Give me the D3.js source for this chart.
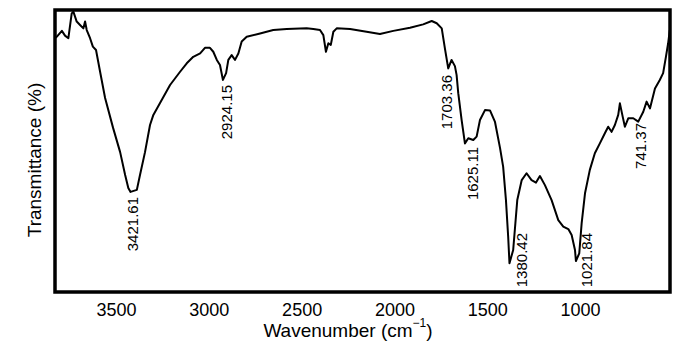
<!DOCTYPE html>
<html>
<head>
<meta charset="utf-8">
<script src="https://cdn.jsdelivr.net/npm/d3@7"></script>
<style>
  html, body { margin: 0; padding: 0; background: #fff; }
  svg { display: block; font-family: "Liberation Sans", Arial, Helvetica, sans-serif; }
</style>
</head>
<body>
<svg id="chart" width="700" height="349"></svg>
<script>
// ---- Data ----
const wavenumber = [
  3829, 3820, 3792, 3775, 3757, 3739, 3730, 3712,
  3694, 3676, 3667, 3658, 3640, 3625, 3608, 3586,
  3559, 3516, 3478, 3451, 3434, 3422, 3388, 3371,
  3344, 3317, 3299, 3263, 3209, 3155, 3119, 3084,
  3047, 3021, 2994, 2976, 2957, 2940, 2924, 2907,
  2895, 2877, 2859, 2841, 2823, 2796, 2724, 2653,
  2580, 2473, 2437, 2401, 2383, 2369, 2356, 2343,
  2329, 2311, 2239, 2150, 2078, 2006, 1916, 1845,
  1799, 1772, 1745, 1728, 1710, 1692, 1674, 1665,
  1656, 1638, 1620, 1602, 1575, 1557, 1539, 1512,
  1485, 1458, 1431, 1414, 1399, 1387, 1380, 1360,
  1338, 1314, 1288, 1261, 1237, 1216, 1189, 1153,
  1117, 1090, 1063, 1045, 1027, 1022, 1004, 991,
  973, 947, 920, 893, 866, 848, 830, 812,
  794, 785, 770, 758, 740, 713, 686, 659,
  641, 623, 596, 570, 552, 537, 525, 516
];
const transmittance = [
  90.0, 90.5, 92.6, 90.9, 90.0, 98.8, 99.4, 95.9,
  94.7, 93.5, 95.9, 92.9, 90.0, 87.0, 85.8, 78.1,
  68.8, 58.2, 49.6, 41.5, 36.9, 35.5, 36.2, 41.5,
  49.6, 59.2, 62.8, 67.0, 73.4, 78.1, 81.1, 83.4,
  84.6, 86.6, 86.6, 85.2, 82.3, 80.5, 75.2, 77.6,
  82.3, 84.0, 82.3, 84.6, 88.8, 90.5, 91.7, 92.9,
  93.3, 93.5, 93.3, 92.9, 91.1, 85.2, 88.2, 87.6,
  92.3, 93.5, 93.3, 92.3, 91.5, 92.6, 93.7, 94.9,
  96.1, 95.3, 93.5, 86.4, 79.3, 82.3, 80.1, 77.0,
  70.5, 61.0, 52.7, 54.5, 53.9, 55.1, 61.0, 64.5,
  64.4, 60.3, 51.1, 44.4, 32.6, 19.6, 10.2, 14.9,
  32.6, 39.7, 42.1, 39.7, 38.8, 41.1, 37.9, 32.6,
  25.5, 23.2, 22.3, 20.2, 14.9, 11.0, 13.7, 24.4,
  35.0, 43.3, 49.2, 52.7, 56.3, 58.6, 56.8, 59.2,
  62.8, 66.9, 62.2, 58.6, 61.6, 61.6, 60.4, 63.9,
  67.5, 65.1, 72.2, 75.2, 77.6, 83.4, 88.2, 92.9
];
const xTicks = [3500, 3000, 2500, 2000, 1500, 1000];
const peakLabels = ['3421.61', '2924.15', '1703.36', '1625.11', '1380.42', '1021.84', '741.37'];

// label placement (pixel offsets from the peak, and top end of the rotated text)
const labelDx = [2.5, 4, -3, 9, 12, 11, 13];
const labelTop = [197, 85, 75, 147, 233, 233, 123];

// ---- Layout ----
const plotLeft = 55, plotRight = 670, plotTop = 10, plotBottom = 292;
const svg = d3.select('#chart');

const x = d3.scaleLinear().domain([3829, 515]).range([plotLeft, plotRight]);
const y = d3.scaleLinear().domain([0, 100]).range([plotBottom, plotTop]);

svg.append('clipPath').attr('id', 'plot-clip')
  .append('rect')
  .attr('x', plotLeft).attr('y', plotTop)
  .attr('width', plotRight - plotLeft).attr('height', plotBottom - plotTop);

// spectrum
const points = wavenumber.map((w, i) => [w, transmittance[i]]);
const line = d3.line().x(d => x(d[0])).y(d => y(d[1]));

svg.append('path')
  .datum(points)
  .attr('clip-path', 'url(#plot-clip)')
  .attr('fill', 'none')
  .attr('stroke', '#000')
  .attr('stroke-width', 2)
  .attr('stroke-linejoin', 'round')
  .attr('d', line);

// frame
svg.append('rect')
  .attr('x', plotLeft).attr('y', plotTop)
  .attr('width', plotRight - plotLeft).attr('height', plotBottom - plotTop)
  .attr('fill', 'none')
  .attr('stroke', '#000')
  .attr('stroke-width', 3.5);

// x axis labels (no tick marks)
const xAxis = svg.append('g')
  .attr('transform', `translate(0,${plotBottom})`)
  .call(d3.axisBottom(x).tickValues(xTicks).tickSize(0).tickPadding(11).tickFormat(d3.format('d')));
xAxis.select('.domain').remove();
xAxis.selectAll('text')
  .attr('font-family', '"Liberation Sans", Arial, Helvetica, sans-serif')
  .attr('font-size', 18)
  .attr('fill', '#000');

// axis titles
const xTitle = svg.append('text')
  .attr('x', 348).attr('y', 337)
  .attr('text-anchor', 'middle')
  .attr('font-size', 19)
  .attr('fill', '#000');
xTitle.append('tspan').text('Wavenumber (cm');
xTitle.append('tspan').attr('font-size', 12).attr('dy', -10).text('\u22121');
xTitle.append('tspan').attr('dy', 10).text(')');

svg.append('text')
  .attr('transform', 'translate(41,160) rotate(-90)')
  .attr('text-anchor', 'middle')
  .attr('font-size', 19)
  .attr('fill', '#000')
  .text('Transmittance (%)');

// peak annotations
svg.append('g')
  .selectAll('text')
  .data(peakLabels)
  .join('text')
  .attr('transform', (d, i) => `translate(${x(+d) + labelDx[i]},${labelTop[i]}) rotate(-90)`)
  .attr('text-anchor', 'end')
  .attr('dy', '0.35em')
  .attr('font-size', 15)
  .attr('fill', '#000')
  .text(d => d);
</script>
</body>
</html>
